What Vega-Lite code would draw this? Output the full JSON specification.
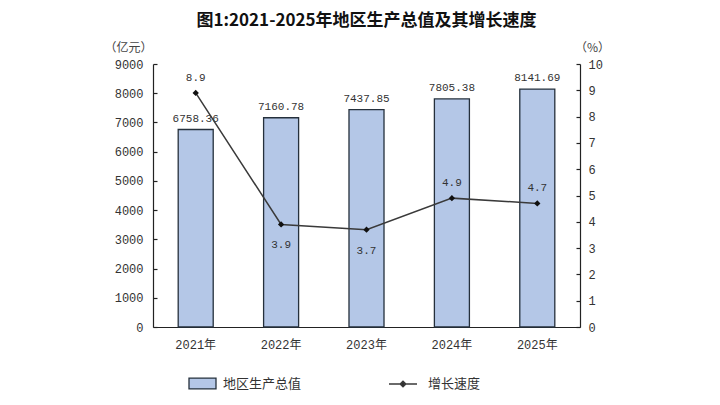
{
  "$schema": "https://vega.github.io/schema/vega-lite/v6.json",
  "width": 427,
  "height": 263,
  "autosize": {"type": "none"},
  "padding": {"left": 153, "top": 64, "right": 140, "bottom": 78},
  "background": "white",
  "title": {
    "text": "图1:2021-2025年地区生产总值及其增长速度",
    "font": "Noto Sans CJK SC",
    "fontSize": 17,
    "fontWeight": "bold",
    "color": "#111",
    "anchor": "middle",
    "frame": "group",
    "offset": 11
  },
  "data": {
    "values": [
      {"year": "2021年", "gdp": 6758.36, "growth": 8.9},
      {"year": "2022年", "gdp": 7160.78, "growth": 3.9},
      {"year": "2023年", "gdp": 7437.85, "growth": 3.7},
      {"year": "2024年", "gdp": 7805.38, "growth": 4.9},
      {"year": "2025年", "gdp": 8141.69, "growth": 4.7}
    ]
  },
  "config": {
    "view": {"stroke": null},
    "axis": {
      "grid": false,
      "domainColor": "#222",
      "domainWidth": 1.2,
      "tickColor": "#222",
      "labelFont": "Liberation Mono, Noto Sans CJK SC",
      "labelFontSize": 12,
      "labelColor": "#333",
      "titleFont": "Noto Sans CJK SC",
      "titleFontSize": 12,
      "titleFontWeight": "normal",
      "titleColor": "#444"
    },
    "legend": {
      "labelFont": "Noto Sans CJK SC",
      "labelFontSize": 13,
      "labelColor": "#333"
    }
  },
  "encoding": {
    "x": {
      "field": "year",
      "type": "ordinal",
      "title": null,
      "scale": {"paddingInner": 0.59, "paddingOuter": 0.295},
      "axis": {"labelAngle": 0, "ticks": false, "labelPadding": 12}
    }
  },
  "layer": [
    {
      "encoding": {
        "y": {
          "field": "gdp",
          "type": "quantitative",
          "scale": {"domain": [0, 9000]},
          "axis": {
            "values": [0, 1000, 2000, 3000, 4000, 5000, 6000, 7000, 8000, 9000],
            "format": "d",
            "labelOverlap": false,
            "tickSize": -4,
            "tickWidth": 1.2,
            "labelPadding": 14,
            "title": "（亿元）",
            "titleAngle": 0,
            "titleAlign": "center",
            "titleBaseline": "middle",
            "titleX": -25,
            "titleY": -17
          }
        }
      },
      "layer": [
        {
          "mark": {"type": "bar", "stroke": "#25303c", "strokeWidth": 1.3},
          "encoding": {
            "fill": {
              "datum": "地区生产总值",
              "scale": {"range": ["#b4c7e7"]},
              "legend": {
                "title": null,
                "orient": "none",
                "legendX": 35,
                "legendY": 305,
                "symbolType": "M-1,-0.4H1V0.4H-1Z",
                "symbolSize": 729,
                "symbolStrokeColor": "#25303c",
                "symbolStrokeWidth": 1.3,
                "labelOffset": 6
              }
            }
          }
        },
        {
          "mark": {"type": "text", "dy": -11, "font": "Liberation Mono", "fontSize": 11, "color": "#333"},
          "encoding": {
            "text": {"field": "gdp", "type": "quantitative", "format": ".2f"}
          }
        }
      ]
    },
    {
      "encoding": {
        "y": {
          "field": "growth",
          "type": "quantitative",
          "scale": {"domain": [0, 10]},
          "axis": {
            "orient": "right",
            "values": [0, 1, 2, 3, 4, 5, 6, 7, 8, 9, 10],
            "format": "d",
            "labelOverlap": false,
            "tickSize": -4,
            "tickWidth": 1.2,
            "labelPadding": 12,
            "title": "（%）",
            "titleAngle": 0,
            "titleAlign": "center",
            "titleBaseline": "middle",
            "titleX": 12,
            "titleY": -17
          }
        }
      },
      "layer": [
        {
          "mark": {"type": "line", "strokeWidth": 1.5},
          "encoding": {
            "stroke": {
              "datum": "增长速度",
              "scale": {"range": ["#3a3a3a"]},
              "legend": {
                "title": null,
                "orient": "none",
                "legendX": 235,
                "legendY": 305,
                "symbolType": "M-1,0H1M0,-0.2L0.2,0L0,0.2L-0.2,0Z",
                "symbolSize": 784,
                "symbolFillColor": "#111",
                "symbolStrokeWidth": 1.5,
                "labelOffset": 10
              }
            }
          }
        },
        {
          "mark": {"type": "point", "shape": "diamond", "filled": true, "size": 40, "color": "#111", "opacity": 1}
        },
        {
          "transform": [{"filter": "datum.growth > 4.5"}],
          "mark": {"type": "text", "dy": -15, "font": "Liberation Mono", "fontSize": 11, "color": "#333"},
          "encoding": {
            "text": {"field": "growth", "type": "quantitative", "format": ".1f"}
          }
        },
        {
          "transform": [{"filter": "datum.growth < 4.5"}],
          "mark": {"type": "text", "dy": 21, "font": "Liberation Mono", "fontSize": 11, "color": "#333"},
          "encoding": {
            "text": {"field": "growth", "type": "quantitative", "format": ".1f"}
          }
        }
      ]
    }
  ],
  "resolve": {"scale": {"y": "independent", "fill": "independent", "stroke": "independent"}}
}
